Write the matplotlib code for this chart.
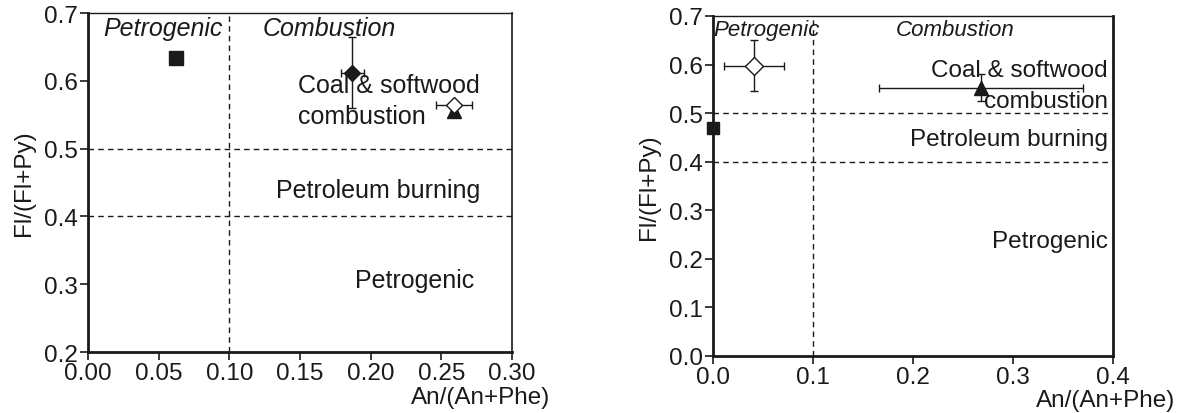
import matplotlib
matplotlib.use("Agg")
import matplotlib.pyplot as plt

plt.rcParams['font.family'] = ['Liberation Sans', 'DejaVu Sans']

# left panel points (x, y, xerr, yerr)
left_square = (0.062, 0.634)
left_diamond = (0.187, 0.612, 0.008, 0.052)
left_open_diamond = (0.259, 0.565, 0.013, 0.0)
left_triangle = (0.259, 0.556)

# right panel points
right_open_diamond = (0.041, 0.598, 0.030, 0.053)
right_triangle = (0.268, 0.552, 0.102, 0.028)
right_square = (0.0, 0.470)

left_xticks = [0.00, 0.05, 0.10, 0.15, 0.20, 0.25, 0.30]
left_xticklabels = ['0.00', '0.05', '0.10', '0.15', '0.20', '0.25', '0.30']
left_yticks = [0.2, 0.3, 0.4, 0.5, 0.6, 0.7]
right_xticks = [0.0, 0.1, 0.2, 0.3, 0.4]
right_yticks = [0.0, 0.1, 0.2, 0.3, 0.4, 0.5, 0.6, 0.7]

fig = plt.figure(figsize=(11.86, 4.14), dpi=100)
ax1 = fig.add_axes([0.0742, 0.1473, 0.3575, 0.8188])
ax2 = fig.add_axes([0.6012, 0.1377, 0.3373, 0.8213])

col = '#1a1a1a'
tfs = 17.5
fs = 18
for ax in (ax1, ax2):
	ax.tick_params(direction='out', length=5.5, width=1.2, labelsize=tfs, colors=col, pad=2)
	ax.spines['left'].set_linewidth(2)
	ax.spines['bottom'].set_linewidth(2)
	ax.spines['top'].set_linewidth(1)
	for s in ax.spines.values():
		s.set_color(col)
	ax.set_ylabel('Fl/(Fl+Py)', fontsize=tfs, color=col, labelpad=6)
ax1.spines['right'].set_linewidth(1.2)
ax2.spines['right'].set_linewidth(2)

# ---- left panel
ax1.set_xlim(0, 0.3)
ax1.set_ylim(0.2, 0.7)
ax1.set_xticks(left_xticks)
ax1.set_xticklabels(left_xticklabels)
ax1.set_yticks(left_yticks)
ax1.set_yticklabels(['%.1f' % v for v in left_yticks])
ax1.axhline(0.5, color=col, ls=(0, (4, 3)), lw=1)
ax1.axhline(0.4, color=col, ls=(0, (4, 3)), lw=1)
ax1.axvline(0.1, color=col, ls=(0, (4, 3)), lw=1)

ax1.plot(left_square[0], left_square[1], 's', color=col, ms=10)
ax1.errorbar(left_diamond[0], left_diamond[1], xerr=left_diamond[2], yerr=left_diamond[3],
	fmt='D', color=col, ms=8, elinewidth=1, capsize=3, ecolor=col)
ax1.plot(left_triangle[0], left_triangle[1], '^', color=col, ms=10)
ax1.errorbar(left_open_diamond[0], left_open_diamond[1], xerr=left_open_diamond[2],
	fmt='D', mfc='white', mec=col, ms=8, elinewidth=1, capsize=3, ecolor=col)

ax1.text(0.053, 0.678, 'Petrogenic', style='italic', fontsize=fs, ha='center', va='center', color=col)
ax1.text(0.171, 0.678, 'Combustion', style='italic', fontsize=fs, ha='center', va='center', color=col)
ax1.text(0.1486, 0.594, 'Coal & softwood', fontsize=fs, ha='left', va='center', color=col)
ax1.text(0.1486, 0.548, 'combustion', fontsize=fs, ha='left', va='center', color=col)
ax1.text(0.205, 0.439, 'Petroleum burning', fontsize=fs, ha='center', va='center', color=col)
ax1.text(0.231, 0.306, 'Petrogenic', fontsize=fs, ha='center', va='center', color=col)

ax1.set_xlabel('An/(An+Phe)', fontsize=tfs, color=col)
ax1.xaxis.set_label_coords(1.09, -0.10)
ax1.xaxis.label.set_ha('right')

# ---- right panel
ax2.set_xlim(0, 0.4)
ax2.set_ylim(0, 0.7)
ax2.set_xticks(right_xticks)
ax2.set_xticklabels(['%.1f' % v for v in right_xticks])
ax2.set_yticks(right_yticks)
ax2.set_yticklabels(['%.1f' % v for v in right_yticks])
ax2.axhline(0.5, color=col, ls=(0, (4, 3)), lw=1)
ax2.axhline(0.4, color=col, ls=(0, (4, 3)), lw=1)
ax2.axvline(0.1, color=col, ls=(0, (4, 3)), lw=1)

ax2.errorbar(right_open_diamond[0], right_open_diamond[1], xerr=right_open_diamond[2],
	yerr=right_open_diamond[3], fmt='D', mfc='white', mec=col, ms=9, elinewidth=1,
	capsize=3, ecolor=col)
ax2.errorbar(right_triangle[0], right_triangle[1], xerr=right_triangle[2], yerr=right_triangle[3],
	fmt='^', color=col, ms=10, elinewidth=1, capsize=3, ecolor=col)
ax2.plot(right_square[0], right_square[1], 's', color=col, ms=9, clip_on=False, zorder=5)

ax2.text(0.0, 0.673, 'Petrogenic', style='italic', fontsize=16, ha='left', va='center', color=col)
ax2.text(0.242, 0.673, 'Combustion', style='italic', fontsize=16, ha='center', va='center', color=col)
ax2.text(0.395, 0.589, 'Coal & softwood', fontsize=tfs, ha='right', va='center', color=col)
ax2.text(0.395, 0.525, 'combustion', fontsize=tfs, ha='right', va='center', color=col)
ax2.text(0.395, 0.447, 'Petroleum burning', fontsize=tfs, ha='right', va='center', color=col)
ax2.text(0.395, 0.237, 'Petrogenic', fontsize=tfs, ha='right', va='center', color=col)

ax2.set_xlabel('An/(An+Phe)', fontsize=tfs, color=col)
ax2.xaxis.set_label_coords(1.155, -0.097)
ax2.xaxis.label.set_ha('right')

fig.savefig('out.png', dpi=100)
